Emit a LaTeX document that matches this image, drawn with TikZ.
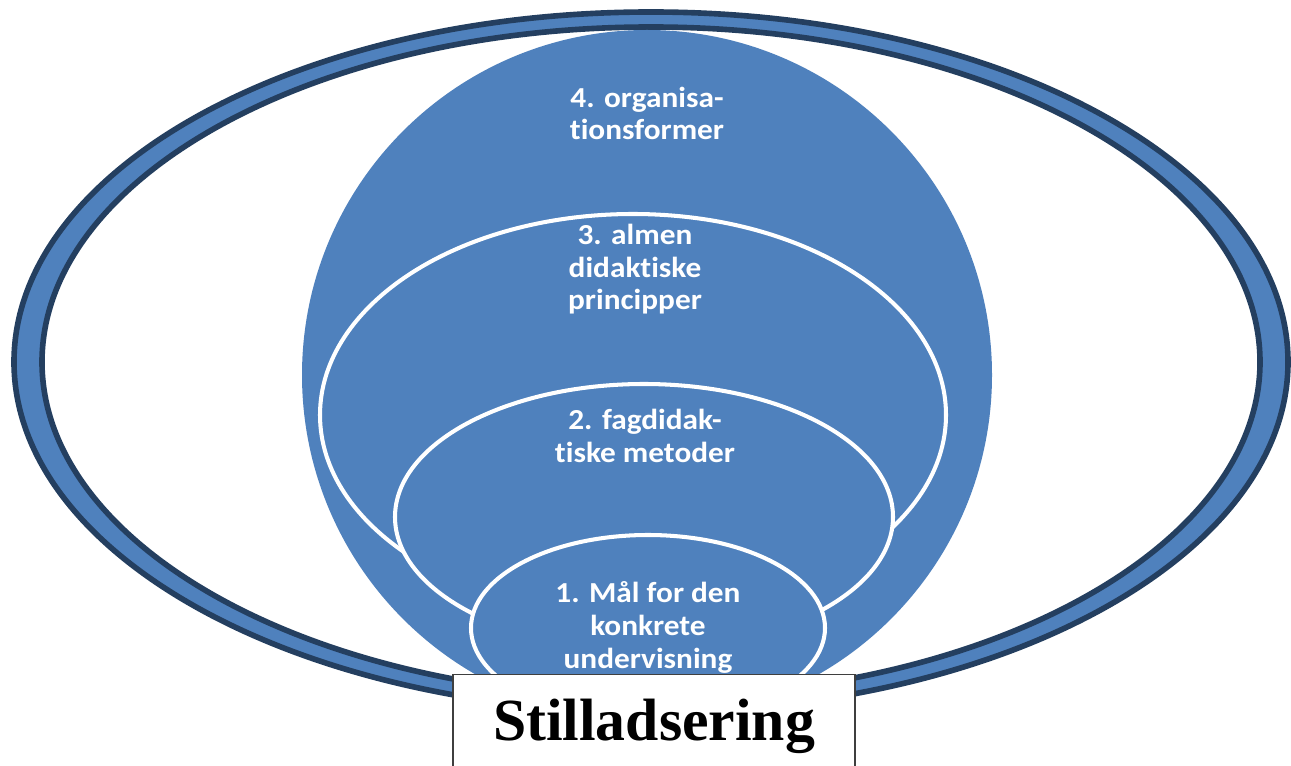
\documentclass[tikz,border=0pt]{standalone}
\usepackage{fontspec}
\setmainfont{Liberation Serif}
\newfontfamily\calib{Carlito}[FakeStretch=1.08, Ligatures=NoCommon]
\usetikzlibrary{positioning}
\definecolor{fillblue}{HTML}{4F81BD}
\definecolor{ringdark}{HTML}{243F60}
\definecolor{boxgray}{HTML}{3F3F3F}

\begin{document}
\begin{tikzpicture}[x=0.02cm, y=-0.02cm,
    layer/.style={fill=fillblue, draw=white, line width=2.3pt},
    lbl/.style={text=white, font=\calib\bfseries\fontsize{16.5}{18.7}\selectfont, align=center, anchor=base, inner sep=0pt}]
  \useasboundingbox (0,0) rectangle (1291,766);
  % ring
  \draw [ringdark, line width=3.2pt, fill=fillblue] (651,362) ellipse [x radius=637, y radius=350];
  \draw [ringdark, line width=3.2pt, fill=white] (651,362) ellipse [x radius=609, y radius=335];
  % circle and the levels inside
  \fill [fillblue] (647,375) circle [radius=345];
  \draw [layer] (633,415) ellipse [x radius=313, y radius=201];
  \draw [layer] (644,517) ellipse [x radius=249, y radius=133];
  \draw [layer] (648,628) ellipse [x radius=177, y radius=93];

  % base = last line
  \node (lvl4) [lbl] at (647,140) {4. organisa-\\tionsformer};
  \node (lvl3) [lbl] at (635,310) {3. almen\\didaktiske\\principper};
  \node (lvl2) [lbl] at (645,462) {2. fagdidak-\\tiske metoder};
  \node (lvl1) [lbl] at (648,668) {1. Mål for den\\konkrete\\undervisning};

  \node (stillads) [draw=boxgray, line width=0.8pt, fill=white, anchor=north, minimum width=8.04cm,
    inner ysep=0pt, text height=1.32cm, text depth=0.8cm, font=\bfseries\fontsize{34}{40}\selectfont]
    at (654,674) {Stilladsering};
\end{tikzpicture}
\end{document}
